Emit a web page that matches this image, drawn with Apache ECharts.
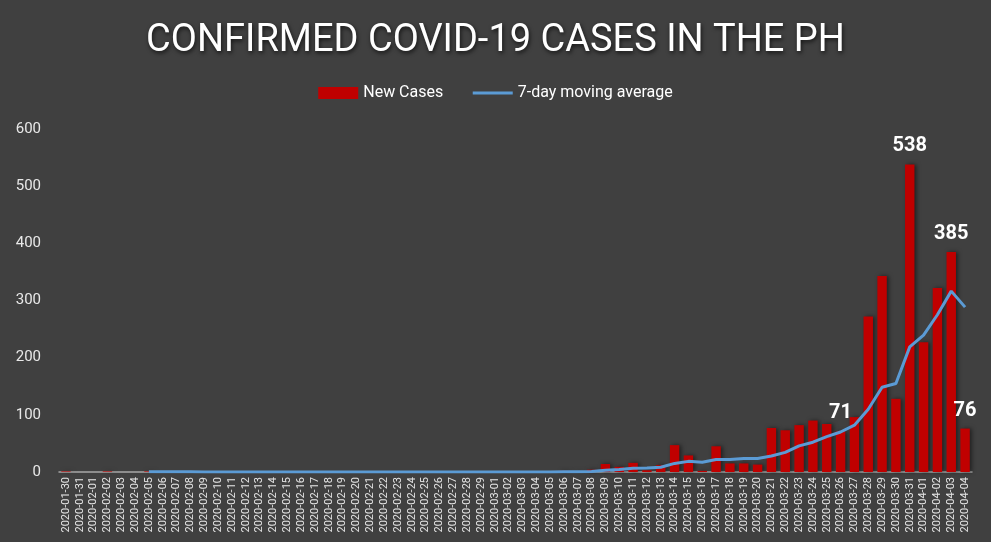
<!DOCTYPE html>
<html>
<head>
<meta charset="utf-8">
<script src="https://cdn.jsdelivr.net/npm/echarts@6/dist/echarts.min.js"></script>
<style>
  html, body { margin: 0; padding: 0; background: #404040; }
  #chart { width: 991px; height: 542px; }
</style>
</head>
<body>
<div id="chart"></div>
<script>
// dates shown on the x axis
const dates = [
    '2020-01-30', '2020-01-31',
    '2020-02-01', '2020-02-02', '2020-02-03', '2020-02-04', '2020-02-05', '2020-02-06', '2020-02-07',
    '2020-02-08', '2020-02-09', '2020-02-10', '2020-02-11', '2020-02-12', '2020-02-13', '2020-02-14',
    '2020-02-15', '2020-02-16', '2020-02-17', '2020-02-18', '2020-02-19', '2020-02-20', '2020-02-21',
    '2020-02-22', '2020-02-23', '2020-02-24', '2020-02-25', '2020-02-26', '2020-02-27', '2020-02-28',
    '2020-02-29',
    '2020-03-01', '2020-03-02', '2020-03-03', '2020-03-04', '2020-03-05', '2020-03-06', '2020-03-07',
    '2020-03-08', '2020-03-09', '2020-03-10', '2020-03-11', '2020-03-12', '2020-03-13', '2020-03-14',
    '2020-03-15', '2020-03-16', '2020-03-17', '2020-03-18', '2020-03-19', '2020-03-20', '2020-03-21',
    '2020-03-22', '2020-03-23', '2020-03-24', '2020-03-25', '2020-03-26', '2020-03-27', '2020-03-28',
    '2020-03-29', '2020-03-30', '2020-03-31',
    '2020-04-01', '2020-04-02', '2020-04-03', '2020-04-04'
];

// new cases per day
const newCases = [
    1, 0,
    0, 1, 0, 0, 1, 0, 0,
    0, 0, 0, 0, 0, 0, 0,
    0, 0, 0, 0, 0, 0, 0,
    0, 0, 0, 0, 0, 0, 0,
    0,
    0, 0, 0, 0, 0, 2, 1,
    4, 14, 9, 16, 3, 12, 47,
    29, 2, 45, 15, 15, 13, 77,
    73, 82, 90, 84, 71, 96, 272,
    343, 128, 538,
    227, 322, 385, 76
];

// 7-day moving average (starts once 7 days exist)
const movingAvg = [
    null, null,
    null, null, null, null, 0.4, 0.3, 0.3,
    0.3, 0.1, 0.1, 0.1, 0, 0, 0,
    0, 0, 0, 0, 0, 0, 0,
    0, 0, 0, 0, 0, 0, 0,
    0,
    0, 0, 0, 0, 0, 0.3, 0.4,
    1.0, 3.0, 4.3, 6.6, 7.0, 8.4, 15.0,
    18.6, 16.9, 22.0, 21.9, 23.6, 23.7, 28.0,
    34.3, 45.7, 52.1, 62.0, 70.0, 81.9, 109.7,
    148.3, 154.9, 218.9,
    239.3, 275.1, 316.4, 288.4
];

// only these days get a value label
const labelled = ['2020-03-26', '2020-03-31', '2020-04-03', '2020-04-04'];

const yTicks = { min: 0, max: 600, interval: 100 };

const barData = newCases.map((v, i) => {
    if (labelled.indexOf(dates[i]) === -1) return v;
    return {
        value: v,
        label: {
            show: true,
            position: 'top',
            distance: 8,
            color: '#ffffff',
            fontSize: 20,
            fontWeight: 'bold',
            fontFamily: 'Roboto'
        }
    };
});

const chart = echarts.init(document.getElementById('chart'));
chart.setOption({
    backgroundColor: '#404040',
    animation: false,
    title: {
        text: 'CONFIRMED COVID-19 CASES IN THE PH',
        left: 'center',
        top: 17,
        textStyle: {
            color: '#ffffff',
            fontSize: 38,
            fontWeight: 'normal',
            fontFamily: 'Roboto',
            textShadowColor: 'rgba(0,0,0,0.7)',
            textShadowBlur: 4,
            textShadowOffsetX: 1,
            textShadowOffsetY: 2
        }
    },
    legend: {
        top: 80,
        left: 'center',
        itemWidth: 40,
        itemHeight: 12,
        itemGap: 28,
        textStyle: { color: '#ffffff', fontSize: 16, fontFamily: 'Roboto' },
        data: [
            { name: 'New Cases', icon: 'rect' },
            { name: '7-day moving average', itemStyle: { opacity: 0 }, lineStyle: { width: 3 } }
        ]
    },
    grid: { left: 59, right: 19, top: 129, bottom: 70 },
    xAxis: {
        type: 'category',
        data: dates,
        z: 0,
        axisLine: { lineStyle: { color: '#a6a6a6', width: 1.5 } },
        axisTick: { show: false },
        axisLabel: {
            interval: 0,
            rotate: 90,
            color: '#e6e6e6',
            fontSize: 11,
            fontFamily: 'Roboto',
            margin: 5
        }
    },
    yAxis: {
        type: 'value',
        min: yTicks.min,
        max: yTicks.max,
        interval: yTicks.interval,
        splitLine: { show: false },
        axisLine: { show: false },
        axisTick: { show: false },
        axisLabel: { color: '#e8e8e8', fontSize: 15, fontFamily: 'Roboto', margin: 18 }
    },
    series: [
        {
            name: 'New Cases',
            type: 'bar',
            data: barData,
            z: 3,
            barCategoryGap: '32%',
            itemStyle: {
                color: '#c00000',
                shadowColor: 'rgba(0,0,0,0.5)',
                shadowBlur: 4,
                shadowOffsetX: 2
            }
        },
        {
            name: '7-day moving average',
            type: 'line',
            data: movingAvg,
            z: 4,
            symbol: 'none',
            smooth: false,
            lineStyle: { color: '#5b9bd5', width: 3 },
            itemStyle: { color: '#5b9bd5' }
        }
    ]
});
</script>
</body>
</html>
